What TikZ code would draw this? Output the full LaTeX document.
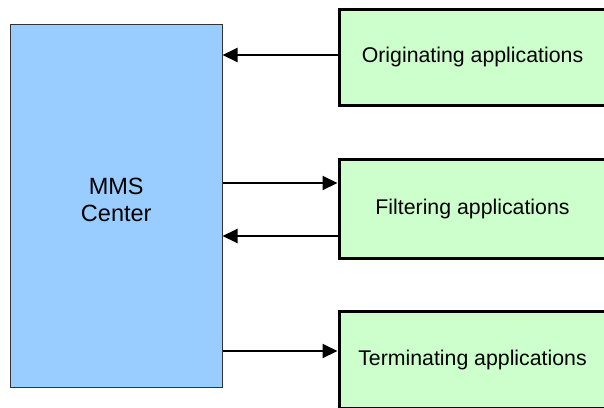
\documentclass[tikz,border=0pt]{standalone}
\usepackage{fontspec}
\setmainfont{Liberation Sans}
\usetikzlibrary{arrows.meta}
\definecolor{centerblue}{HTML}{99CCFF}
\definecolor{appgreen}{HTML}{CCFFCC}
\tikzset{
  center box/.style={draw=black!80, line width=1pt, fill=centerblue, inner sep=0pt,
    minimum width=211.5pt, minimum height=363.5pt, align=center, text depth=12pt,
    font=\fontsize{23.5}{26.5}\selectfont},
  app box/.style={draw=black, line width=3pt, fill=appgreen, inner sep=0pt,
    minimum width=267pt, font=\fontsize{21.3}{25}\selectfont},
  flow/.style={line width=2pt, -{Triangle[length=15pt,width=14pt]}},
}
\begin{document}
\begin{tikzpicture}[x=1pt, y=-1pt]
  \useasboundingbox (0,0) rectangle (604,407);
  \clip (0,0) rectangle (604,407);

  % central message centre
  \node[center box] (mms) at (116.25,205.75) {MMS\\Center};

  % value-added applications
  \node[app box, minimum height=96pt] (orig) at (472.5,57) {Originating applications};
  \node[app box, minimum height=99pt] (filt) at (472.5,208.5) {Filtering applications};
  \node[app box, minimum height=97pt] (term) at (472.5,359.5) {Terminating applications};

  % heights of the message flows
  \coordinate (f1) at (0,55);
  \coordinate (f2) at (0,183);
  \coordinate (f3) at (0,236);
  \coordinate (f4) at (0,351);

  \draw[flow] (orig.west |- f1) -- (mms.east |- f1);
  \draw[flow] (mms.east |- f2) -- (filt.west |- f2);
  \draw[flow] (filt.west |- f3) -- (mms.east |- f3);
  \draw[flow] (mms.east |- f4) -- (term.west |- f4);
\end{tikzpicture}
\end{document}
